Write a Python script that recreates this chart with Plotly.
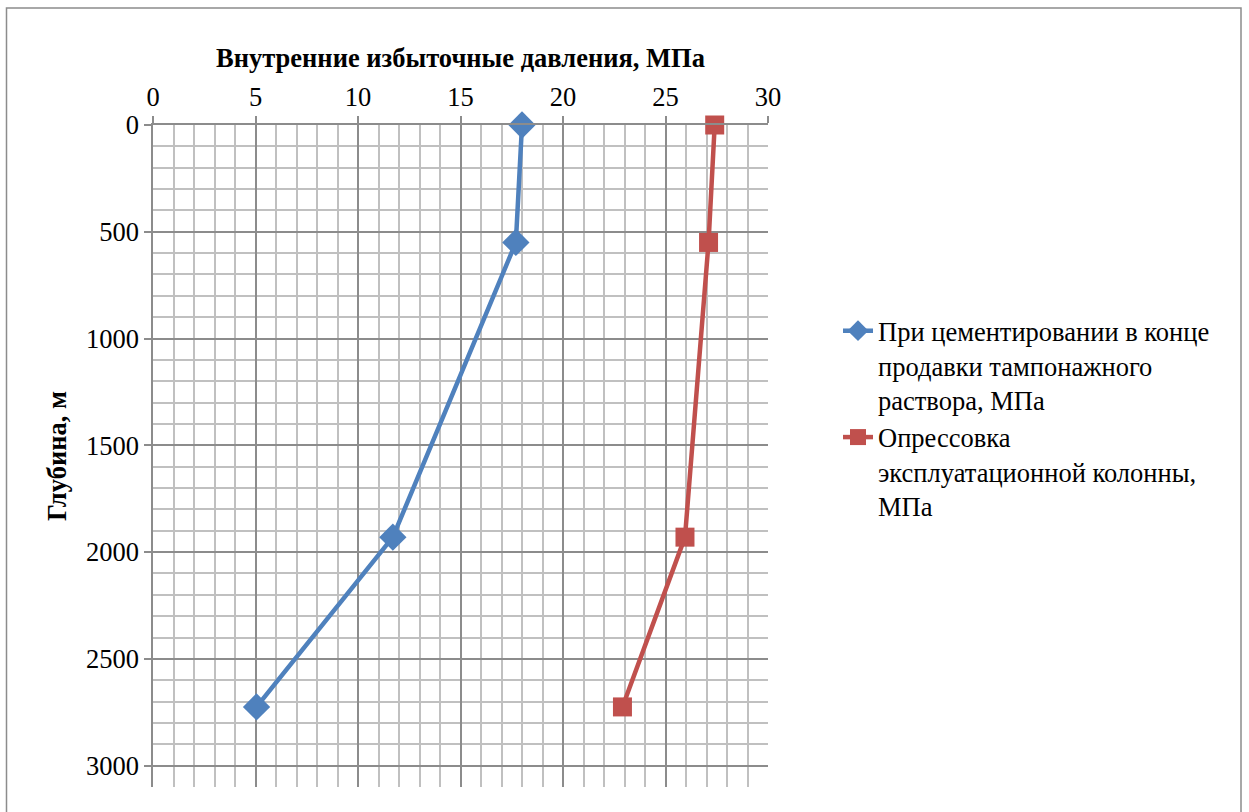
import plotly.graph_objects as go

depth = [0, 550, 1930, 2725]
p_cement = [18.0, 17.7, 11.7, 5.05]
p_test = [27.4, 27.1, 25.95, 22.9]
names = ["При цементировании в конце<br>продавки тампонажного<br>раствора, МПа",
         "Опрессовка<br>эксплуатационной колонны,<br>МПа"]

FONT = "Liberation Serif"
FS = 26.5
BLUE = "#4F81BD"
RED = "#C0504D"

fig = go.Figure()
fig.add_trace(go.Scatter(x=p_cement, y=depth, mode="lines+markers", name=names[0],
                         line=dict(color=BLUE, width=4.5), cliponaxis=False,
                         marker=dict(symbol="diamond", size=21, color=BLUE)))
fig.add_trace(go.Scatter(x=p_test, y=depth, mode="lines+markers", name=names[1],
                         line=dict(color=RED, width=4.5), cliponaxis=False,
                         marker=dict(symbol="square", size=19, color=RED)))

L, R, T, B = 153, 1249 - 768, 125, 812 - 787
W, H = 1249, 812
pw, ph = W - L - R, H - T - B

fig.update_layout(
    width=W, height=H,
    margin=dict(l=L, r=R, t=T, b=B, autoexpand=False),
    paper_bgcolor="white", plot_bgcolor="white",
    font=dict(family=FONT, size=FS, color="black"),
    showlegend=True,
    legend=dict(x=(838 - L) / pw, y=(787 - 307) / ph, xanchor="left", yanchor="top",
                font=dict(family=FONT, size=FS), tracegroupgap=11, valign="top",
                bgcolor="rgba(0,0,0,0)"),
    shapes=[dict(type="rect", xref="paper", yref="paper",
                 x0=(6.5 - L) / pw, x1=(1241 - L) / pw,
                 y0=(787 - 840) / ph, y1=(787 - 8) / ph,
                 line=dict(color="#8c8c8c", width=1.5), fillcolor="rgba(0,0,0,0)",
                 layer="below")],
)

fig.update_xaxes(
    side="top", range=[0, 30], dtick=5, tick0=0,
    showgrid=True, gridcolor="#8c8c8c", gridwidth=1.5,
    minor=dict(dtick=1, showgrid=True, gridcolor="#c0c0c0", gridwidth=1.5),
    ticks="outside", ticklen=7, tickcolor="#8c8c8c", tickwidth=1.5,
    showline=True, linecolor="#8c8c8c", linewidth=1.5, mirror=False,
    zeroline=False,
    title=dict(text="<b>Внутренние избыточные давления, МПа</b>", standoff=6,
               font=dict(family=FONT, size=FS)),
    tickfont=dict(family=FONT, size=FS),
)
fig.update_yaxes(
    range=[3100, 0], dtick=500, tick0=0,
    showgrid=True, gridcolor="#8c8c8c", gridwidth=1.5,
    minor=dict(dtick=100, showgrid=True, gridcolor="#c0c0c0", gridwidth=1.5),
    ticks="outside", ticklen=7, tickcolor="#8c8c8c", tickwidth=1.5,
    showline=True, linecolor="#8c8c8c", linewidth=1.5,
    zeroline=False,
    title=dict(text="<b>Глубина, м</b>", standoff=12,
               font=dict(family=FONT, size=FS)),
    tickfont=dict(family=FONT, size=FS),
)

fig.write_html("out.html")
